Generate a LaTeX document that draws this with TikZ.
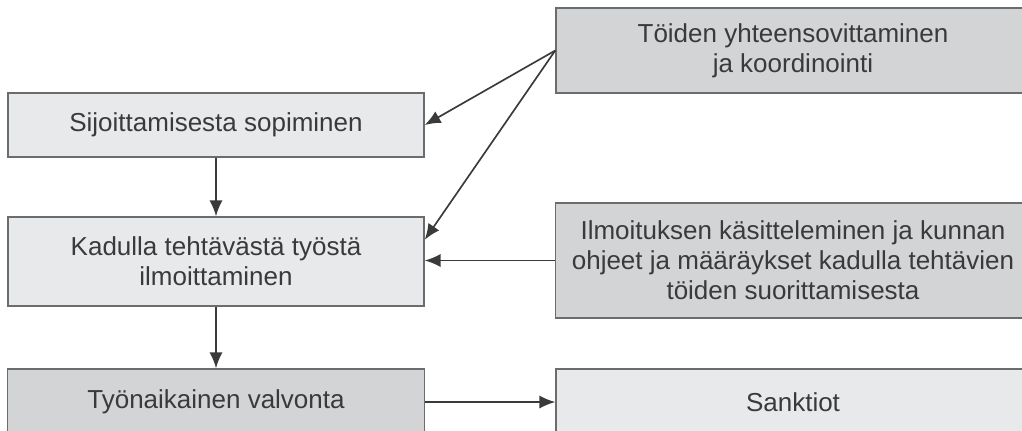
\documentclass[tikz,border=0pt]{standalone}
\usepackage{fontspec}
\setmainfont{Liberation Sans}
\usepackage{tikz}
\usetikzlibrary{calc,arrows.meta}
\definecolor{boxlight}{HTML}{E8E9EB}
\definecolor{boxdark}{HTML}{D3D4D6}
\definecolor{boxline}{HTML}{6B6C6E}
\definecolor{ink}{HTML}{3A3A3A}

\begin{document}
\begin{tikzpicture}[x=0.02cm,y=-0.02cm,
              box/.style={draw=boxline,line width=0.9pt,align=center,text=ink,inner sep=0pt,
                font=\fontsize{14.8}{17}\selectfont},
              light/.style={box,fill=boxlight},
              dark/.style={box,fill=boxdark},
              arr/.style={draw=ink,line width=0.95pt,-{Latex[length=9pt,width=7.5pt]}}]
              \useasboundingbox (0,0) rectangle (1022,430);
              \clip (0,0) rectangle (1022,430);
              % left column
              \node[light,minimum width=8.32cm,minimum height=1.28cm](sop)at(216,125){Sijoittamisesta sopiminen};
              \node[light,minimum width=8.32cm,minimum height=1.78cm](ilm)at(216,261.5){Kadulla tehtävästä työstä\\ilmoittaminen};
              \node[dark,minimum width=8.34cm,minimum height=1.32cm](valv)at(216,402){Työnaikainen valvonta};
              % right column
              \node[dark,minimum width=9.48cm,minimum height=1.7cm](koord)at(793,50.5){Töiden yhteensovittaminen\\ja koordinointi};
              \node[dark,minimum width=9.5cm,minimum height=2.3cm](kas)at(793,260.5){Ilmoituksen käsitteleminen ja kunnan\\ohjeet ja määräykset kadulla tehtävien\\töiden suorittamisesta};
              \node[light,minimum width=9.48cm,minimum height=1.32cm](sank)at(793,402){Sanktiot};
              % arrows
              \draw[arr] (sop) -- (ilm);
              \draw[arr] (ilm) -- (valv);
              \draw[arr] (koord.west) -- (sop.east);
              \draw[arr] (koord.west) -- ($(ilm.north east)!0.26!(ilm.south east)$);
              \draw[arr] (kas.west) -- (kas.west -| ilm.east);
              \draw[arr] (valv.east) -- (sank.west);
\end{tikzpicture}
\end{document}
